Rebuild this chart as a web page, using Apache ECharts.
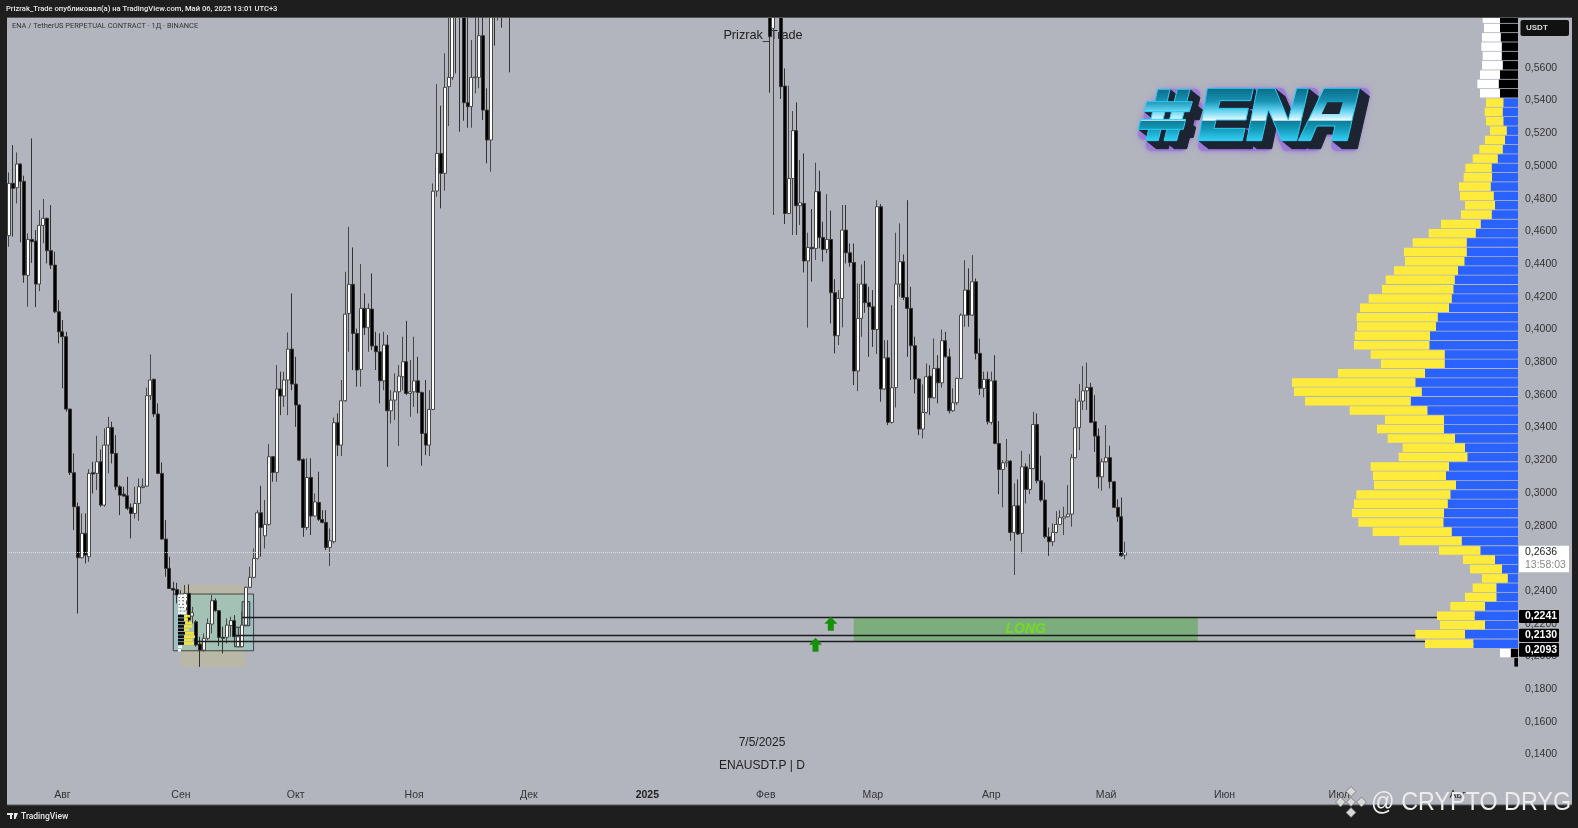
<!DOCTYPE html>
<html><head><meta charset="utf-8">
<style>html,body{margin:0;padding:0;background:#1e1e1e}#c{width:1578px;height:828px}</style>
<script src="https://cdn.jsdelivr.net/npm/echarts@6/dist/echarts.min.js"></script>
</head><body><div id="c"></div>
<script>
// Daily candles, rows are [open, close, low, high]
const jul24=[
[.4574,.4894,.4506,.4961],[.4894,.4863,.4568,.5128],[.4867,.5012,.4771,.5083],[.5012,.4906,.4533,.5016],[.4906,.4333,.4286,.4941],
[.4331,.4551,.4139,.4588],[.4551,.4537,.4408,.5169],[.4541,.4278,.4137,.4608],[.4278,.4637,.4235,.4731],[.4637,.4680,.4527,.4798],
[.4680,.4482,.4404,.4685],[.4482,.4394,.4370,.4761],[.4394,.4108,.4100,.4476],[.4108,.3986,.3915,.4180]];
const aug24=[
[.3986,.3956,.3640,.4058],[.3956,.3513,.3497,.3986],[.3513,.3124,.3110,.3516],[.3124,.2916,.2773,.3242],[.2916,.2604,.2263,.2942],
[.2604,.2753,.2600,.2875],[.2753,.2620,.2569,.2875],[.2610,.3120,.2579,.3146],[.3124,.3116,.2997,.3191],[.3120,.3191,.3018,.3350],
[.3191,.2926,.2916,.3266],[.2926,.3293,.2916,.3395],[.3293,.3401,.3120,.3466],[.3401,.3242,.3181,.3436],[.3242,.3038,.3018,.3354],
[.3038,.2987,.2865,.3048],[.2993,.2981,.2977,.3038],[.2983,.2906,.2895,.3099],[.2912,.2875,.2722,.2936],[.2875,.2936,.2844,.3038],
[.2936,.3038,.2830,.3089],[.3034,.3042,.3028,.3089],[.3042,.3595,.3038,.3644],[.3595,.3691,.3568,.3848],[.3695,.3483,.3466,.3700],
[.3483,.3120,.3115,.3548],[.3120,.2718,.2716,.3187],[.2718,.2539,.2488,.2834],[.2539,.2416,.2412,.2610],[.2416,.2406,.2376,.2457],
[.2410,.2376,.2325,.2451]];
const sep24=[
[.2304,.2376,.2253,.2406],[.2284,.2386,.2274,.2437],[.2386,.2223,.2202,.2441],[.2247,.2268,.2202,.2304],[.2212,.2070,.2060,.2223],
[.2076,.2039,.1937,.2121],[.2039,.2111,.2029,.2141],[.2111,.2202,.2100,.2233],[.2198,.2341,.2141,.2376],[.2341,.2280,.2274,.2355],
[.2280,.2117,.2064,.2284],[.2117,.2111,.2019,.2182],[.2117,.2192,.2080,.2233],[.2190,.2219,.2121,.2243],[.2219,.2121,.2111,.2253],
[.2060,.2121,.2056,.2178],[.2060,.2192,.2056,.2274],[.2192,.2423,.2186,.2427],[.2423,.2484,.2416,.2549],[.2484,.2600,.2478,.2661],
[.2600,.2879,.2594,.2895],[.2879,.2789,.2610,.3044],[.2738,.2808,.2661,.2957],[.2808,.3222,.2800,.3299],[.3222,.3126,.3069,.3226],
[.3126,.3636,.3069,.3782],[.3636,.3593,.3476,.3742],[.3593,.3691,.3527,.3742],[.3691,.3880,.3476,.3982],[.3880,.3666,.3629,.4221]];
const oct24=[
[.3666,.3538,.3405,.3833],[.3538,.3201,.3197,.3543],[.3205,.2789,.2732,.3212],[.2789,.3095,.2773,.3212],[.3095,.2859,.2743,.3212],
[.2859,.2946,.2855,.2997],[.2942,.2838,.2830,.3130],[.2838,.2820,.2814,.2895],[.2820,.2667,.2651,.2895],[.2667,.2708,.2553,.2783],
[.2702,.3430,.2692,.3462],[.3430,.3293,.3226,.3487],[.3293,.3564,.3226,.3691],[.3564,.4094,.3558,.4353],[.4098,.4276,.3864,.4628],
[.4276,.3976,.3752,.4502],[.3976,.3752,.3650,.4005],[.3756,.4129,.3650,.4400],[.4129,.4011,.3966,.4221],[.4011,.4129,.3864,.4159],
[.4125,.3899,.3874,.4343],[.3899,.3864,.3752,.3986],[.3864,.3686,.3548,.3976],[.3686,.3905,.3629,.3986],[.3905,.3503,.3160,.3966],
[.3503,.3568,.3425,.3629],[.3568,.3619,.3446,.3731],[.3619,.3715,.3287,.3782],[.3711,.3803,.3629,.3956],[.3803,.3609,.3599,.4053],
[.3609,.3619,.3466,.3813]];
const nov24=[
[.3619,.3686,.3527,.3956],[.3686,.3615,.3487,.3833],[.3615,.3364,.3167,.3620],[.3364,.3293,.3232,.3691],[.3293,.3511,.3226,.3629],
[.3511,.4846,.3507,.4893],[.4847,.5077,.4812,.5501],[.5077,.4955,.4741,.5369],[.4955,.5481,.4849,.5689],[.5485,.5542,.5244,.5933],
[.5542,.6100,.5526,.6200],[.6300,.6000,.5566,.6600],[.6600,.5920,.5210,.7000],[.6400,.5387,.5277,.6600],[.5387,.5363,.5234,.6200],
[.5363,.5542,.5234,.5770],[.5540,.5544,.5444,.6000],[.5542,.5797,.5475,.6200],[.5797,.5342,.5281,.6100],[.5342,.5159,.5016,.5475],
[.5159,.6300,.4965,.6500],[.6400,.6200,.5736,.6700],[.6300,.6600,.5889,.6800],[.6600,.6400,.5846,.7000],[.6400,.6800,.6200,.7000],
[.6800,.6400,.5573,.7200],[.7200,.7000,.6400,.7600],[.7000,.7800,.6700,.8000],[.7800,.7400,.7000,.8200],[.7400,.8000,.7100,.8400]];
const dec24=[
[.80,.84,.76,.88],[.84,.80,.75,.90],[.80,.90,.78,.94],[.90,.86,.80,.96],[.86,.78,.68,.90],
[.78,.88,.74,.92],[.88,.92,.84,.98],[.92,.84,.80,.94],[.84,.96,.82,1.00],[.96,1.02,.92,1.06],
[1.02,.98,.92,1.08],[.98,1.10,.94,1.14],[1.10,1.16,1.04,1.22],[1.16,1.08,1.00,1.20],[1.08,.98,.92,1.12],
[.98,.86,.76,1.02],[.86,.92,.80,.98],[.92,.88,.82,.96],[.88,.96,.84,1.00],[.96,.92,.86,1.00],
[.92,.94,.88,.98],[.94,.90,.84,.98],[.90,.88,.82,.94],[.88,.84,.78,.92],[.84,.86,.80,.92],
[.86,.82,.76,.90],[.82,.84,.78,.88],[.84,.86,.80,.90],[.86,.82,.76,.90],[.82,.84,.78,.88],
[.84,.86,.80,.90]];
const jan25=[
[.86,.94,.84,.98],[.94,.92,.88,1.00],[.92,.98,.90,1.02],[.98,.96,.92,1.02],[.96,.88,.82,1.00],
[.88,.86,.78,.92],[.86,.84,.78,.90],[.84,.80,.74,.88],[.80,.78,.72,.84],[.78,.76,.70,.82],
[.76,.80,.72,.84],[.80,.74,.68,.84],[.74,.72,.66,.78],[.72,.78,.68,.82],[.78,.84,.74,.88],
[.84,.88,.80,.92],[.88,.92,.84,.96],[.92,.90,.84,.98],[.90,.84,.78,.94],[.84,.92,.80,.96],
[.92,.88,.82,.98],[.88,.90,.82,.94],[.90,.86,.80,.94],[.86,.88,.82,.92],[.88,.84,.78,.92],
[.84,.86,.78,.90],[.86,.82,.74,.90],[.82,.84,.76,.88],[.84,.86,.78,.90],[.86,.82,.74,.90],
[.82,.76,.70,.84]];
const feb25=[
[.7600,.6800,.6200,.7800],[.6600,.5791,.5448,.7200],[.5842,.6400,.4700,.7000],[.6600,.6200,.6000,.6800],[.6200,.5485,.5410,.6600],
[.5489,.4710,.4645,.5597],[.4710,.4924,.4705,.5491],[.4924,.5216,.4578,.5336],[.5216,.4757,.4578,.5389],[.4757,.4775,.4639,.5036],
[.4771,.4419,.4349,.5077],[.4419,.4502,.4011,.4592],[.4502,.4494,.4292,.4737],[.4496,.4843,.4425,.5020],[.4843,.4563,.4496,.4971],
[.4563,.4490,.4415,.4659],[.4490,.4551,.4466,.4828],[.4551,.4225,.4037,.4727],[.4225,.3962,.3854,.4308],[.3962,.4190,.3905,.4241],
[.4190,.4608,.4013,.4761],[.4608,.4469,.4404,.4761],[.4469,.4410,.4384,.4526],[.4410,.3746,.3660,.4526],[.3746,.4068,.3623,.4282],
[.4068,.4278,.3956,.4398],[.4278,.4164,.4102,.4420],[.4164,.4139,.3833,.4261]];
const mar25=[
[.4139,.4000,.3894,.4241],[.4000,.4751,.3850,.4790],[.4751,.3636,.3558,.4767],[.3636,.3827,.3630,.3935],[.3827,.3432,.3415,.3935],
[.3432,.3644,.3425,.4149],[.3644,.4278,.3523,.4592],[.4278,.4414,.4200,.4649],[.4414,.4196,.4180,.4459],[.4196,.4129,.3833,.4791],
[.4129,.3901,.3691,.4261],[.3901,.3697,.3609,.3956],[.3697,.3391,.3354,.3702],[.3391,.3493,.3334,.3664],[.3493,.3711,.3487,.3792],
[.3715,.3582,.3476,.3782],[.3582,.3762,.3578,.3945],[.3762,.3674,.3548,.3843],[.3674,.3931,.3644,.4000],[.3931,.3833,.3828,.3986],
[.3833,.3503,.3487,.3884],[.3503,.3552,.3497,.3640],[.3552,.3701,.3538,.3706],[.3701,.4088,.3696,.4098],[.4088,.4241,.4017,.4424],
[.4241,.4088,.4017,.4374],[.4088,.4292,.4083,.4455],[.4292,.3854,.3817,.4312],[.3854,.3640,.3599,.3945],[.3640,.3695,.3585,.3742],
[.3695,.3436,.3419,.3742]];
const apr25=[
[.3432,.3686,.3419,.3742],[.3686,.3303,.3298,.3843],[.3303,.3144,.2993,.3440],[.3144,.3185,.2912,.3201],[.3185,.3195,.3160,.3330],
[.3195,.2759,.2708,.3201],[.2759,.2922,.2498,.3059],[.2922,.2749,.2743,.3083],[.2753,.3160,.2630,.3258],[.3160,.3022,.2936,.3181],
[.3022,.3150,.2993,.3238],[.3150,.3419,.3145,.3497],[.3419,.3075,.3059,.3487],[.3075,.2957,.2946,.3228],[.2957,.2732,.2722,.3063],
[.2732,.2702,.2616,.2789],[.2702,.2759,.2675,.2814],[.2759,.2808,.2753,.2889],[.2808,.2849,.2804,.2895],[.2846,.2855,.2743,.2916],
[.2855,.2871,.2851,.3048],[.2871,.3216,.2794,.3238],[.3216,.3399,.3211,.3578],[.3399,.3562,.3262,.3666],[.3562,.3625,.3507,.3776],
[.3625,.3646,.3507,.3797],[.3646,.3432,.3427,.3674],[.3436,.3348,.3252,.3599],[.3348,.3099,.3028,.3395],[.3099,.3191,.3014,.3211]];
const may25=[
[.3191,.3216,.3185,.3415],[.3216,.3069,.3028,.3289],[.3069,.2912,.2908,.3073],[.2912,.2855,.2824,.2961],[.2855,.2616,.2610,.2973],
[.2620,.2636,.2594,.2702]];

// Visible-range volume profile (arbitrary units): one value per price row, top to bottom
const volumeBase=[54,54,52,49,49,46,54,58,54,44,46,44,34,39,46,61,79,78,82,73,69,79,112,127,154,154,161,180,190,194,199,207,241,246,264,266,220,220,279,308,289,322,272,222,222,189,159,152,207,216,186,203,211,222,224,199,169,113,69,48,31,65,65,99,130,99,159,134,22,11];
const volumeTop=[52,48,56,61,57,62,60,64,60,52,54,52,50,60,70,75,79,85,95,101,90,92,119,141,162,188,178,192,207,214,249,267,243,237,226,226,222,191,261,370,383,317,233,177,201,202,187,206,235,219,246,282,281,276,255,237,187,124,96,96,77,71,94,104,113,135,149,145,32,0];
const profileOutsideRows=[0,1,2,3,4,5,6,7,8,68,69];
// Small thumbnail profile inside the screenshot box
const miniBase=[9,9,8,9,8,8,6,6,7,6,6,7,6,6,6,4,3];
const miniTop=[0,0,0,0,0,0,6,4,7,8,5,9,11,8,10,0,0];
const miniDarkRows=[6,7,8,9,10,11,12,13,14];

const monthNames=['Янв','Фев','Мар','Апр','Май','Июн','Июл','Авг','Сен','Окт','Ноя','Дек'];
const priceTickLabels=['0,1400','0,1600','0,1800','0,2000','0,2200','0,2400','0,2600','0,2800','0,3000','0,3200','0,3400','0,3600','0,3800','0,4000','0,4200','0,4400','0,4600','0,4800','0,5000','0,5200','0,5400','0,5600'];
const levelPrices=[0.2241,0.2130,0.2093];
const lastPrice=0.2636;

const candles=[].concat(jul24,aug24,sep24,oct24,nov24,dec24,jan25,feb25,mar25,apr25,may25);
const categories=[];
for(let i=0;i<395;i++){const d=new Date(Date.UTC(2024,6,18+i));categories.push(d.toISOString().slice(0,10));}
const profileRows=volumeBase.map((_,i)=>'r'+i);
const miniRows=miniBase.map((_,i)=>'m'+i);
const cat=i=>categories[i];
const FONT='"Liberation Sans"';
const chart=echarts.init(document.getElementById('c'),null,{renderer:'canvas'});

// #ENA logo drawn as polygons, outlined in a 3x sketch frame
const logoShapes=[
 [[113,58],[150,58],[115,212],[78,212]],
 [[172,58],[210,58],[170,212],[132,212]],
 [[80,95],[217,95],[208,125],[72,125]],
 [[62,148],[197,148],[190,178],[55,178]],
 [[262,55],[400,55],[392,92],[300,92],[295,115],[385,115],[378,150],[288,150],[282,175],[375,175],[367,212],[235,212]],
 [[412,55],[465,55],[505,150],[530,55],[565,55],[530,212],[485,212],[445,118],[425,212],[380,212]],
 [[612,55],[718,55],[682,212],[635,212],[645,168],[590,168],[572,212],[535,212]]
];
const logoHole=[[622,97],[668,97],[658,132],[605,132]];
const Lp=pts=>pts.map(p=>[1120+p[0]/3,70+p[1]/3]);
const logoGradient=new echarts.graphic.LinearGradient(0,88,0,141,[
 {offset:0,color:'#0a6a86'},{offset:.25,color:'#1893b4'},{offset:.42,color:'#5fd0ee'},{offset:.57,color:'#c9f3ff'},{offset:.61,color:'#ffffff'},
 {offset:.62,color:'#0d7d99'},{offset:.78,color:'#149cbb'},{offset:1,color:'#35d2f5'}],true);
const logo=[];
logoShapes.forEach(s=>logo.push({type:'polygon',z:3,silent:true,x:5,y:5,shape:{points:Lp(s)},style:{fill:'#8f66dd',stroke:'#8f66dd',lineWidth:11,lineJoin:'round',opacity:.55,shadowBlur:6,shadowColor:'#9a70e8'}}));
for(let k=10;k>=1;k--)logoShapes.forEach(s=>logo.push({type:'polygon',z:4,silent:true,x:k,y:k*0.8,shape:{points:Lp(s)},style:{fill:'#1d2533',stroke:'#1d2533',lineWidth:1}}));
logoShapes.forEach(s=>logo.push({type:'polygon',z:5,silent:true,shape:{points:Lp(s)},style:{fill:logoGradient,stroke:'#2ccdf5',lineWidth:1}}));
logo.push({type:'polygon',z:5,silent:true,shape:{points:Lp(logoHole)},style:{fill:'#1d2533'}});

function tag(y,h,txt){return [
 {type:'rect',z:90,silent:true,shape:{x:1519,y:y,width:40,height:h,r:1},style:{fill:'#000'}},
 {type:'text',z:91,silent:true,x:1525,y:y+h/2,style:{text:txt,font:'bold 10.5px '+FONT,fill:'#fff',textVerticalAlign:'middle'}}];}
function diamond(cx,cy,r){return {type:'polygon',z:96,silent:true,shape:{points:[[cx,cy-r],[cx+r,cy],[cx,cy+r],[cx-r,cy]]},style:{fill:'#d8d8d8',stroke:'#555',lineWidth:.6}};}

const graphics=[
 {type:'text',z:1,silent:true,x:763,y:35,style:{text:'Prizrak_Trade',font:'12.7px '+FONT,fill:'#222',textAlign:'center',textVerticalAlign:'middle'}},
 {type:'text',z:1,silent:true,x:12,y:26.5,style:{text:'ENA / TetherUS PERPETUAL CONTRACT · 1Д · BINANCE',font:'7.45px Roboto',fill:'#333',textVerticalAlign:'middle'}},
 {type:'text',z:1,silent:true,x:762,y:743,style:{text:'7/5/2025',font:'12px '+FONT,fill:'#222',textAlign:'center',textVerticalAlign:'middle'}},
 {type:'text',z:1,silent:true,x:762,y:766,style:{text:'ENAUSDT.P | D',font:'12px '+FONT,fill:'#222',textAlign:'center',textVerticalAlign:'middle'}},
 ...logo,
 // frame
 {type:'rect',z:80,silent:true,shape:{x:0,y:0,width:1578,height:17},style:{fill:'#1e1e1e'}},
 {type:'rect',z:80,silent:true,shape:{x:0,y:805,width:1578,height:23},style:{fill:'#1e1e1e'}},
 {type:'rect',z:80,silent:true,shape:{x:0,y:0,width:7,height:828},style:{fill:'#1e1e1e'}},
 {type:'rect',z:80,silent:true,shape:{x:1572,y:0,width:6,height:828},style:{fill:'#1e1e1e'}},
 {type:'rect',z:81,silent:true,shape:{x:7,y:17,width:1565,height:1},style:{fill:'#555'}},
 {type:'rect',z:81,silent:true,shape:{x:7,y:804.5,width:1565,height:1},style:{fill:'#555'}},
 {type:'text',z:82,silent:true,x:6,y:9.5,style:{text:'Prizrak_Trade опубликовал(а) на TradingView.com, Май 06, 2025 13:01 UTC+3',font:'500 7.6px Roboto',fill:'#e8e8e8',textVerticalAlign:'middle'}},
 {type:'rect',z:82,silent:true,shape:{x:7,y:813,width:6,height:2},style:{fill:'#e8e8e8'}},
 {type:'rect',z:82,silent:true,shape:{x:10,y:815,width:2,height:4},style:{fill:'#e8e8e8'}},
 {type:'polygon',z:82,silent:true,shape:{points:[[14,813],[18,813],[15.5,819],[14,819]]},style:{fill:'#e8e8e8'}},
 {type:'text',z:82,silent:true,x:21,y:816.5,style:{text:'TradingView',font:'500 8.5px Roboto',fill:'#e8e8e8',textVerticalAlign:'middle'}},
 // axis badges and tags
 {type:'rect',z:90,silent:true,shape:{x:1520.5,y:20,width:48.5,height:16,r:2},style:{fill:'#111'}},
 {type:'text',z:91,silent:true,x:1526,y:28,style:{text:'USDT',font:'bold 8px '+FONT,fill:'#ddd',textVerticalAlign:'middle'}},
 {type:'rect',z:90,silent:true,shape:{x:1519,y:545.7,width:50,height:26.6},style:{fill:'#fff'}},
 {type:'text',z:91,silent:true,x:1525,y:552.5,style:{text:'0,2636',font:'10.5px '+FONT,fill:'#222',textVerticalAlign:'middle'}},
 {type:'text',z:91,silent:true,x:1525,y:565,style:{text:'13:58:03',font:'10.5px '+FONT,fill:'#888',textVerticalAlign:'middle'}},
 ...tag(610,13,'0,2241'),...tag(628.7,13.3,'0,2130'),...tag(643,13.7,'0,2093'),
 // watermark
 diamond(1351,791.5,5),diamond(1351,812.5,5),diamond(1340.5,802,5),diamond(1361.5,802,5),diamond(1351,802,4.5),
 {type:'text',z:96,silent:true,x:1371,y:803,scaleX:.915,style:{text:'@ CRYPTO DRYG',font:'25.5px '+FONT,fill:'#ececec',textVerticalAlign:'middle',shadowBlur:2,shadowColor:'#222'}}
];

const boxLines=(i,p)=>[{coord:[cat(i),p],lineStyle:{color:'#1c1c1c',width:1.3,type:'solid'}},{coord:[cat(394),p]}];

chart.setOption({
 animation:false,
 backgroundColor:'#b2b5be',
 tooltip:{show:false},
 grid:[
  {left:7,top:2.5,width:1510,height:784.8,containLabel:false},
  {left:1218,top:14,width:300,height:653},
  {left:178,top:594,width:40,height:58}
 ],
 xAxis:[
  {type:'category',data:categories,gridIndex:0,boundaryGap:true,
   axisLine:{show:false},axisTick:{show:false},splitLine:{show:false},
   axisLabel:{show:true,margin:2,color:'#333',fontSize:10.5,fontFamily:FONT,hideOverlap:false,
    interval:(i,v)=>v.slice(8)==='01',
    formatter:v=>{const m=+v.slice(5,7);const y=v.slice(0,4);return m===1?'{b|'+y+'}':monthNames[m-1];},
    rich:{b:{fontWeight:'bold',color:'#222',fontSize:10.5,fontFamily:FONT}}}},
  {type:'value',gridIndex:1,inverse:true,min:0,max:900,show:false},
  {type:'value',gridIndex:2,min:0,max:40,show:false}
 ],
 yAxis:[
  {type:'value',gridIndex:0,position:'right',min:0.12,max:0.60,interval:0.02,scale:true,
   axisLine:{show:false},axisTick:{show:false},splitLine:{show:false},
   axisLabel:{show:true,margin:8,color:'#333',fontSize:10.5,fontFamily:FONT,
    formatter:v=>{const s=v.toFixed(4).replace('.',',');return priceTickLabels.includes(s)?s:'';}}},
  {type:'category',gridIndex:1,data:profileRows,inverse:true,show:false},
  {type:'category',gridIndex:2,data:miniRows,inverse:true,show:false}
 ],
 series:[
  {type:'candlestick',name:'ENAUSDT.P',xAxisIndex:0,yAxisIndex:0,z:2,barWidth:3.5,data:candles,clip:true,
   itemStyle:{color:'#ffffff',color0:'#000000',borderColor:'#474747',borderColor0:'#333333',borderWidth:1},
   markArea:{silent:true,data:[
    [{xAxis:cat(45),yAxis:.2437,itemStyle:{color:'#b9b8a6'}},{xAxis:cat(62),yAxis:.1938}],
    [{xAxis:cat(43),yAxis:.2382,itemStyle:{color:'rgba(125,210,205,.36)',borderColor:'#444',borderWidth:1}},{xAxis:cat(64),yAxis:.2035}],
    [{xAxis:cat(59),yAxis:.2179,itemStyle:{color:'rgba(70,120,190,.18)',borderColor:'#333',borderWidth:1}},{xAxis:cat(61),yAxis:.2060}],
    [{xAxis:cat(61),yAxis:.2335,itemStyle:{color:'rgba(70,120,190,.18)',borderColor:'#333',borderWidth:1}},{xAxis:cat(63),yAxis:.2188}],
    [{name:'LONG',xAxis:cat(221),yAxis:levelPrices[0],itemStyle:{color:'rgba(70,165,60,.5)'},
      label:{show:true,position:'inside',formatter:'LONG',color:'#74dc20',fontSize:14,fontWeight:'bold',fontStyle:'italic',fontFamily:FONT}},
     {xAxis:cat(311),yAxis:levelPrices[2]}]
   ]},
   markLine:{silent:true,symbol:'none',label:{show:false},animation:false,data:[
    [{coord:[cat(0),lastPrice],lineStyle:{color:'#dcdde2',width:1,type:'dotted'}},{coord:[cat(394),lastPrice]}],
    boxLines(61,levelPrices[0]),boxLines(59,levelPrices[1]),boxLines(49,levelPrices[2])
   ]},
   markPoint:{silent:true,symbol:'path://M6.5 0 L13 7 L9.5 7 L9.5 14 L3.5 14 L3.5 7 L0 7 Z',symbolSize:[13,14],
    itemStyle:{color:'#169108'},label:{show:false},
    data:[{coord:[cat(215),.2201]},{coord:[cat(211),.2072]}]}
  },
  {type:'bar',name:'base',xAxisIndex:1,yAxisIndex:1,stack:'vp',z:6,barWidth:8.5,silent:true,data:volumeBase,
   itemStyle:{color:p=>profileOutsideRows.includes(p.dataIndex)?'#000000':'#2962ff'}},
  {type:'bar',name:'top',xAxisIndex:1,yAxisIndex:1,stack:'vp',z:6,barWidth:8.5,silent:true,data:volumeTop,
   itemStyle:{color:p=>profileOutsideRows.includes(p.dataIndex)?'#ffffff':'#ffeb3b'}},
  {type:'bar',name:'miniBase',xAxisIndex:2,yAxisIndex:2,stack:'mini',z:6,barWidth:2.6,silent:true,data:miniBase,
   itemStyle:{color:p=>miniDarkRows.includes(p.dataIndex)?'#0a0a0a':'#f4f4f4'}},
  {type:'bar',name:'miniTop',xAxisIndex:2,yAxisIndex:2,stack:'mini',z:6,barWidth:2.6,silent:true,data:miniTop,
   itemStyle:{color:'#f2e23a'}}
 ],
 graphic:graphics
});
</script></body></html>
